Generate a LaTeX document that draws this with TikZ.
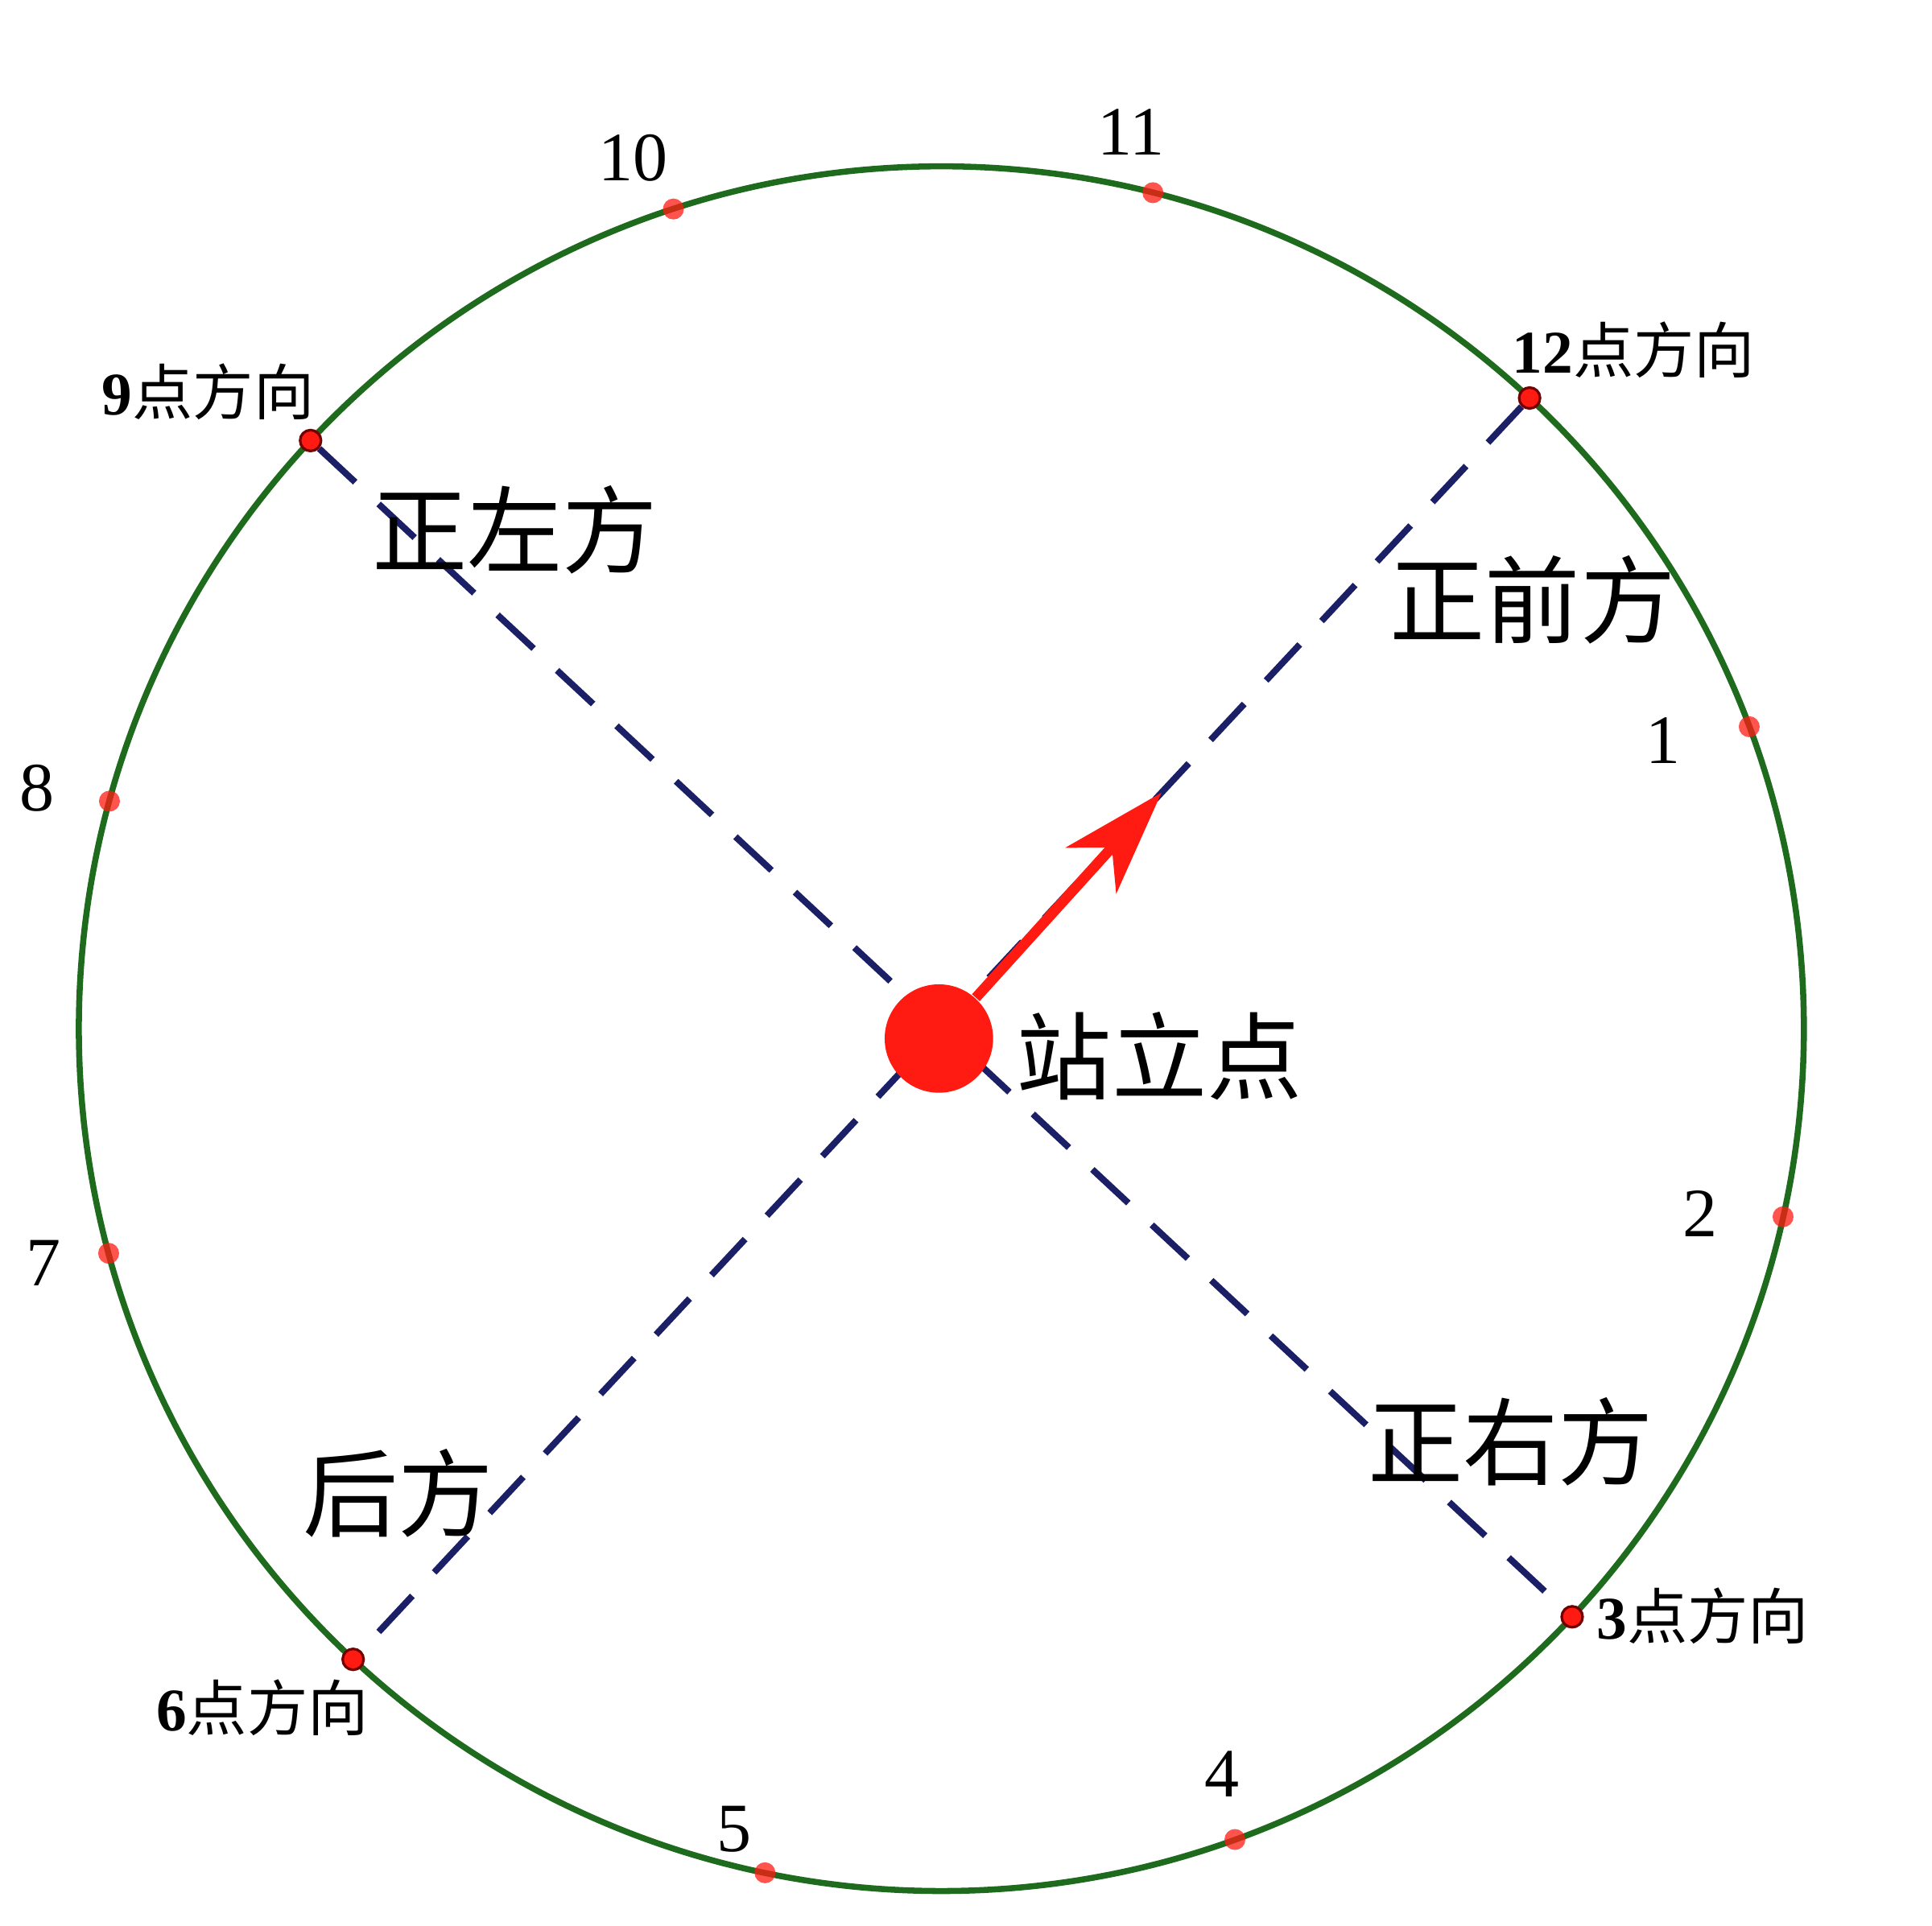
\documentclass[tikz,border=0pt]{standalone}
\usepackage{fontspec}
\setmainfont{Liberation Serif}
\newfontfamily\cjk{Noto Sans CJK SC}
\usepackage{tikz}
\usetikzlibrary{arrows.meta}
\usetikzlibrary{backgrounds}
\definecolor{rimgreen}{HTML}{1E6B1E}
\definecolor{axisblue}{HTML}{1B2066}
\definecolor{spotred}{HTML}{FF1A12}
\tikzset{spot/.style = {shape=circle,fill=spotred,draw=red!45!black,line width=0.6pt,inner sep=0pt,minimum size=0.17cm}}
\tikzset{glow/.style = {shape=circle,fill=spotred,opacity=0.75,inner sep=0pt,minimum size=0.17cm}}
\tikzset{hour/.style = {font=\fontsize{16}{16}\selectfont}}
\tikzset{dirlabel/.style = {font=\fontsize{14}{14}\selectfont}}
\tikzset{zone/.style = {font=\fontsize{22}{22}\selectfont\cjk}}
\tikzset{axis/.style = {draw=axisblue,line width=1.5pt,dash pattern=on 0.4cm off 0.26cm}}
\tikzset{pointer/.style = {-{Stealth[length=8.5mm,width=5.5mm,inset=2.5mm]},draw=spotred,line width=2.4pt}}

\begin{document}
\begin{tikzpicture}

            \useasboundingbox (-7.64,-7.28) rectangle (8.04,8.35);

            \node[spot] (p12) at (47:7) {};
            \node[spot] (p9) at (137:7) {};
            \node[spot] (p6) at (227:7) {};
            \node[spot] (p3) at (317:7) {};
            \node[shape=circle,fill=spotred,minimum size=0.88cm] (stand) at (-0.02,-0.08) {};
            \coordinate (tip) at (47:2.62);

            \begin{scope}[on background layer]
            \draw[rimgreen,line width=1.4pt] (0,0) circle (7);
            \draw[axis] (p12) -- (p6);
            \draw[axis] (p9) -- (p3);
            \end{scope}

            \node[glow] (g1) at (20.5:7) {};
            \node[glow] (g2) at (347.4:7) {};
            \node[glow] (g4) at (289.9:7) {};
            \node[glow] (g5) at (258.2:7) {};
            \node[glow] (g7) at (195.1:7) {};
            \node[glow] (g8) at (164.7:7) {};
            \node[glow] (g10) at (108.1:7) {};
            \node[glow] (g11) at (75.8:7) {};

            \draw[pointer] (stand) -- (tip);

            \node[hour] (n1) at (5.86,2.34) {1};
            \node[hour] (n2) at (6.16,-1.50) {2};
            \node[hour] (n4) at (2.28,-6.05) {4};
            \node[hour] (n5) at (-1.68,-6.50) {5};
            \node[hour] (n7) at (-7.29,-1.90) {7};
            \node[hour] (n8) at (-7.34,1.95) {8};
            \node[hour] (n10) at (-2.50,7.07) {10};
            \node[hour] (n11) at (1.54,7.28) {11};

            \node[dirlabel] (d12) at (5.62,5.51) {\textbf{12}{\cjk 点方向}};
            \node[dirlabel] (d9) at (-5.95,5.17) {\textbf{9}{\cjk 点方向}};
            \node[dirlabel] (d6) at (-5.51,-5.51) {\textbf{6}{\cjk 点方向}};
            \node[dirlabel] (d3) at (6.18,-4.77) {\textbf{3}{\cjk 点方向}};

            \node[zone] (left) at (-3.46,4.05) {正左方};
            \node[zone] (front) at (4.80,3.48) {正前方};
            \node[zone] (right) at (4.62,-3.35) {正右方};
            \node[zone] (back) at (-4.41,-3.77) {后方};
            \node[zone] (here) at (1.77,-0.22) {站立点};
            \end{tikzpicture}
\end{document}
